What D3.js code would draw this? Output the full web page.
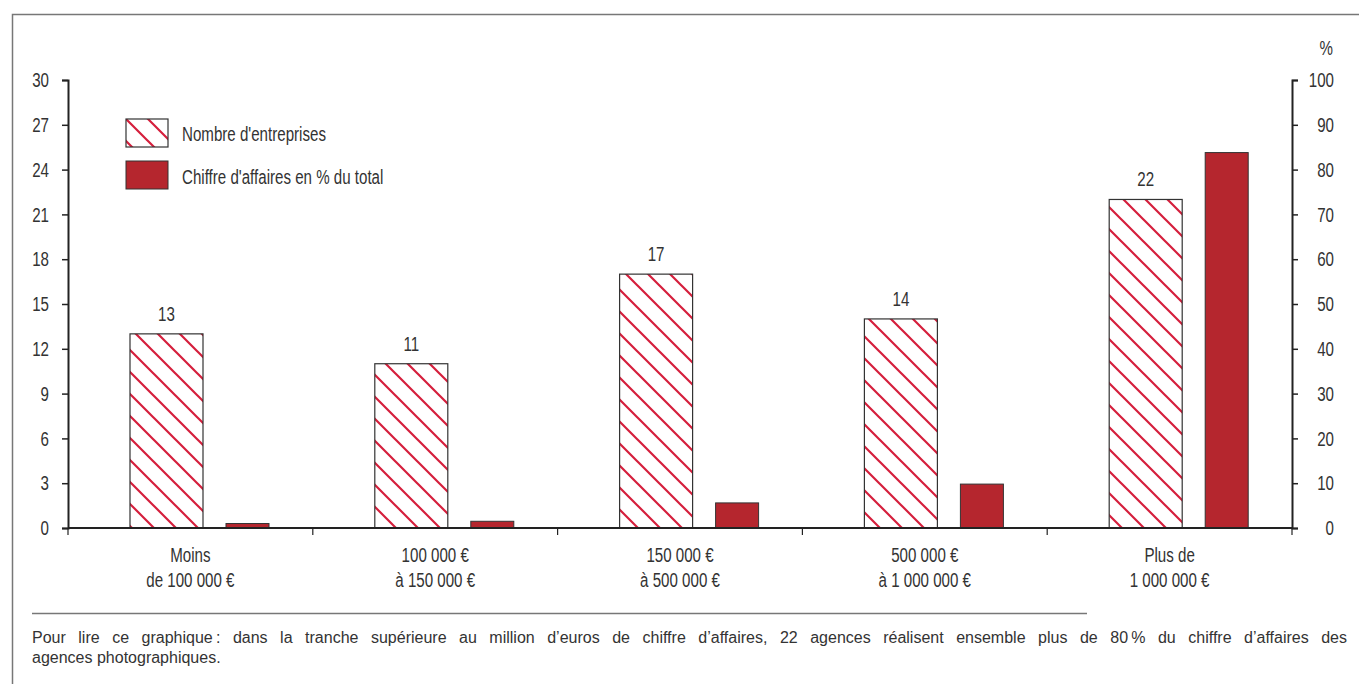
<!DOCTYPE html>
<html>
<head>
<meta charset="utf-8">
<script src="https://cdn.jsdelivr.net/npm/d3@7"></script>
<style>
  body { margin: 0; background: #fff; }
  svg text { fill: #333; }
  .cond { font-family: "Liberation Sans", Arial, sans-serif; font-size: 21px; }
  .note { font-family: "Liberation Sans", Arial, sans-serif; font-size: 16px; }
</style>
</head>
<body>
<script>
var categories = [
    ["Moins", "de 100 000 \u20ac"],
    ["100 000 \u20ac", "\u00e0 150 000 \u20ac"],
    ["150 000 \u20ac", "\u00e0 500 000 \u20ac"],
    ["500 000 \u20ac", "\u00e0 1 000 000 \u20ac"],
    ["Plus de", "1 000 000 \u20ac"]
];
var nbEntreprises = [13, 11, 17, 14, 22];
var caPourcent = [1, 1.5, 5.6, 9.8, 83.8];
var leftTicks = [0, 3, 6, 9, 12, 15, 18, 21, 24, 27, 30];
var rightTicks = [0, 10, 20, 30, 40, 50, 60, 70, 80, 90, 100];
var legendLabels = ["Nombre d'entreprises", "Chiffre d'affaires en % du total"];
var note = [
    "Pour lire ce graphique\u202f: dans la tranche sup\u00e9rieure au million d\u2019euros de chiffre d\u2019affaires, 22 agences r\u00e9alisent ensemble plus de 80\u202f% du chiffre d\u2019affaires des",
    "agences photographiques."
];

var width = 1359,
    height = 684,
    mLeft = 68,
    mRight = 1292,
    mTop = 80,
    mBottom = 528,
    squeezeX = 0.72;

var hatchColor = "#d51f3c",
    redColor = "#b5262e",
    axisColor = "#222";

var svg = d3.select("body")
    .append("svg")
    .attr("width", width)
    .attr("height", height);

// condensed look: scale text horizontally around its anchor
function squeeze(sel) {
    sel.each(function () {
        var t = d3.select(this);
        var x = +t.attr("x") || 0, y = +t.attr("y") || 0;
        t.attr("x", 0).attr("y", 0)
            .attr("transform", "translate(" + x + "," + y + ") scale(" + squeezeX + ",1)");
    });
}

// hatch pattern
var pat = svg.append("defs")
    .append("pattern")
    .attr("id", "hatch")
    .attr("patternUnits", "userSpaceOnUse")
    .attr("width", 22)
    .attr("height", 22);
pat.append("path")
    .attr("d", "M0,0 L22,22 M-3,19 L3,25 M19,-3 L25,3")
    .attr("stroke", hatchColor)
    .attr("stroke-width", 2.2);

// outer frame
svg.append("path")
    .attr("d", "M12.5," + height + " V14.5 H" + width)
    .attr("fill", "none")
    .attr("stroke", "#777")
    .attr("stroke-width", 1.5);

var xScale = d3.scaleBand()
    .domain(d3.range(categories.length))
    .range([mLeft, mRight]);

var yLeft = d3.scaleLinear().domain([0, 30]).range([mBottom, mTop]);
var yRight = d3.scaleLinear().domain([0, 100]).range([mBottom, mTop]);

var hatchOff = 62, hatchW = 73, redOff = 158, redW = 43;

// hatched bars
svg.selectAll("rect.nb")
    .data(nbEntreprises)
    .enter()
    .append("rect")
    .attr("class", "nb")
    .attr("x", function (d, i) { return xScale(i) + hatchOff; })
    .attr("y", function (d) { return yLeft(d); })
    .attr("width", hatchW)
    .attr("height", function (d) { return mBottom - yLeft(d); })
    .attr("fill", "url(#hatch)")
    .attr("stroke", "#333")
    .attr("stroke-width", 1.2);

svg.selectAll("text.val")
    .data(nbEntreprises)
    .enter()
    .append("text")
    .attr("class", "val cond")
    .attr("x", function (d, i) { return xScale(i) + hatchOff + hatchW / 2; })
    .attr("y", function (d) { return yLeft(d) - 13; })
    .attr("text-anchor", "middle")
    .text(function (d) { return d; })
    .call(squeeze);

// red bars
svg.selectAll("rect.ca")
    .data(caPourcent)
    .enter()
    .append("rect")
    .attr("class", "ca")
    .attr("x", function (d, i) { return xScale(i) + redOff; })
    .attr("y", function (d) { return yRight(d); })
    .attr("width", redW)
    .attr("height", function (d) { return mBottom - yRight(d); })
    .attr("fill", redColor)
    .attr("stroke", "#333")
    .attr("stroke-width", 1);

// left axis
var gl = svg.append("g")
    .attr("transform", "translate(" + mLeft + ",0)")
    .call(d3.axisLeft(yLeft).tickValues(leftTicks).tickSize(6).tickPadding(13));
// right axis
var gr = svg.append("g")
    .attr("transform", "translate(" + mRight + ",0)")
    .call(d3.axisRight(yRight).tickValues(rightTicks).tickSize(6));
gr.selectAll(".tick text").attr("text-anchor", "end").attr("x", 42);

[gl, gr].forEach(function (g) {
    g.attr("font-family", null).attr("font-size", null);
    g.select(".domain").attr("stroke", axisColor).attr("stroke-width", 2);
    g.selectAll(".tick line").attr("stroke", axisColor).attr("stroke-width", 1.5);
    g.selectAll(".tick text").attr("class", "cond").attr("fill", "#333").call(squeeze);
});

svg.append("text")
    .attr("class", "cond")
    .attr("x", 1333)
    .attr("y", 55)
    .attr("text-anchor", "end")
    .text("%")
    .call(squeeze);

// x axis baseline and separators
svg.append("line")
    .attr("x1", mLeft).attr("x2", mRight)
    .attr("y1", mBottom).attr("y2", mBottom)
    .attr("stroke", axisColor).attr("stroke-width", 2);
svg.selectAll("line.sep")
    .data(d3.range(categories.length + 1))
    .enter()
    .append("line")
    .attr("class", "sep")
    .attr("x1", function (d) { return mLeft + d * xScale.step(); })
    .attr("x2", function (d) { return mLeft + d * xScale.step(); })
    .attr("y1", mBottom).attr("y2", mBottom + 7)
    .attr("stroke", axisColor).attr("stroke-width", 1.2);

// category labels, two lines each
[0, 1].forEach(function (j) {
    svg.selectAll("text.cat" + j)
        .data(categories)
        .enter()
        .append("text")
        .attr("class", "cat" + j + " cond")
        .attr("text-anchor", "middle")
        .attr("x", function (d, i) { return xScale(i) + xScale.bandwidth() / 2; })
        .attr("y", 562 + j * 25)
        .text(function (d) { return d[j]; })
        .call(squeeze);
});

// legend
var leg = svg.append("g").attr("transform", "translate(126,119)");
leg.append("rect").attr("width", 42).attr("height", 28)
    .attr("fill", "url(#hatch)").attr("stroke", "#333").attr("stroke-width", 1.2);
leg.append("rect").attr("y", 42).attr("width", 42).attr("height", 28)
    .attr("fill", redColor).attr("stroke", "#333").attr("stroke-width", 1);
leg.selectAll("text")
    .data(legendLabels)
    .enter()
    .append("text")
    .attr("class", "cond")
    .attr("x", 56)
    .attr("y", function (d, i) { return 22 + i * 43; })
    .text(function (d) { return d; })
    .call(squeeze);

// note
svg.append("line")
    .attr("x1", 32).attr("x2", 1087)
    .attr("y1", 613.5).attr("y2", 613.5)
    .attr("stroke", "#777").attr("stroke-width", 1.5);
svg.selectAll("text.note")
    .data(note)
    .enter()
    .append("text")
    .attr("class", "note")
    .attr("x", 32)
    .attr("y", function (d, i) { return 643 + i * 20; })
    .text(function (d) { return d; })
    .each(function (d, i) {
        // first line is justified to the right edge
        if (i === 0) {
            var len = this.getComputedTextLength();
            var spaces = d.split(" ").length - 1;
            var extra = (1347 - 32 - len) / spaces;
            if (extra > 0) d3.select(this).attr("word-spacing", extra);
        }
    });
</script>
</body>
</html>
